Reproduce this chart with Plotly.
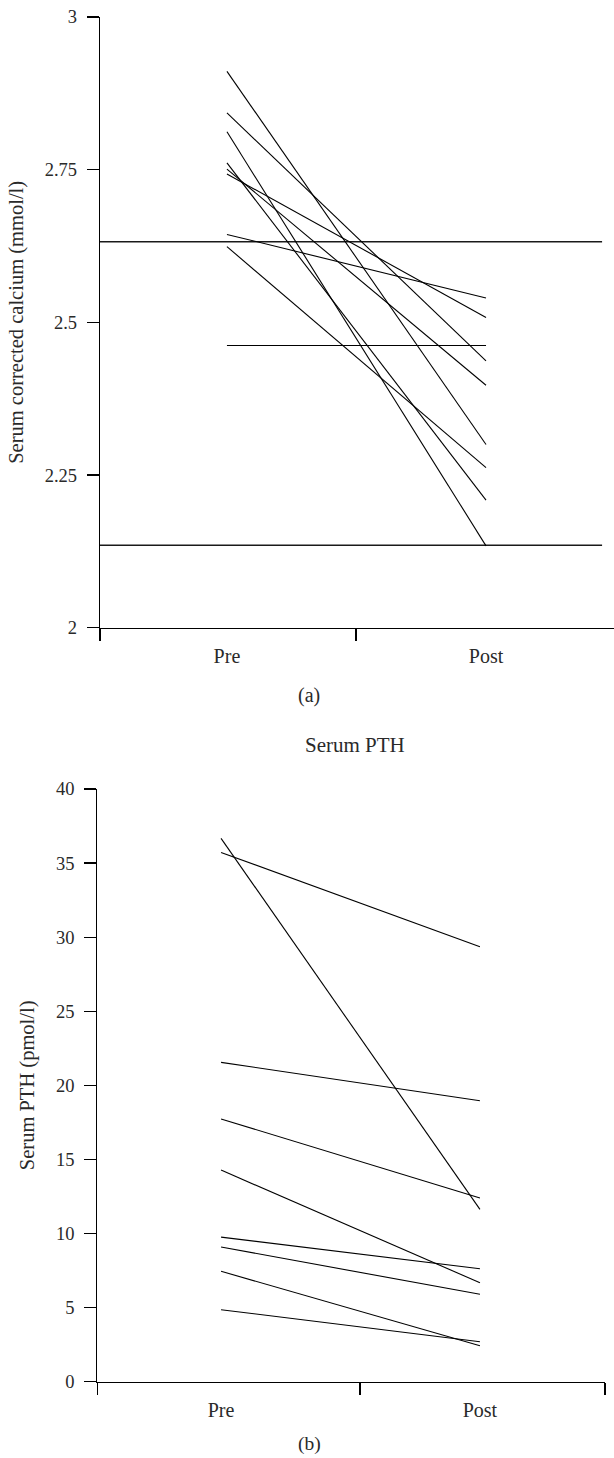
import plotly.graph_objects as go

# ---------------- data ----------------
categories = ["Pre", "Post"]

calcium_pre = [2.911, 2.843, 2.812, 2.761, 2.751, 2.743, 2.644, 2.624, 2.462]
calcium_post = [2.300, 2.437, 2.134, 2.209, 2.397, 2.508, 2.540, 2.262, 2.462]
calcium_ref = [2.632, 2.135]
calcium_ticks = [2, 2.25, 2.5, 2.75, 3]
calcium_ticktext = ["2", "2.25", "2.5", "2.75", "3"]

pth_pre = [36.67, 35.72, 21.55, 17.73, 14.28, 9.76, 9.09, 7.45, 4.86]
pth_post = [11.63, 29.35, 18.96, 12.40, 6.68, 7.62, 5.90, 2.43, 2.70]
pth_ticks = [0, 5, 10, 15, 20, 25, 30, 35, 40]

# ---------------- layout constants ----------------
W, H = 614, 1458
FONT = "Liberation Serif"
TXT = "#2a2a2a"


def ydom(top_px, bot_px):
    return [1 - bot_px / H, 1 - top_px / H]


xr_top = [-0.490, 1.494]
xr_bot = [-0.478, 1.483]
xpos = [0, 1]

fig = go.Figure()

# top panel: reference lines
for v in calcium_ref:
    fig.add_trace(go.Scatter(x=[xr_top[0], 1.448], y=[v, v], mode="lines",
                             line=dict(color="#1a1a1a", width=1.3),
                             xaxis="x", yaxis="y", showlegend=False, hoverinfo="skip"))
# top panel: subjects
for a, b in zip(calcium_pre, calcium_post):
    fig.add_trace(go.Scatter(x=xpos, y=[a, b], mode="lines",
                             line=dict(color="black", width=1.1),
                             xaxis="x", yaxis="y", showlegend=False))

# bottom panel: subjects
for a, b in zip(pth_pre, pth_post):
    fig.add_trace(go.Scatter(x=xpos, y=[a, b], mode="lines",
                             line=dict(color="black", width=1.1),
                             xaxis="x2", yaxis="y2", showlegend=False))

axis_line = dict(showline=True, linecolor="black", linewidth=1.2, showgrid=False,
                 zeroline=False, automargin=False)
ytickfont = dict(family=FONT, size=18.5, color=TXT)
xtickfont = dict(family=FONT, size=20, color=TXT)
titlefont = dict(family=FONT, size=20.5, color=TXT)

fig.update_layout(
    width=W, height=H,
    margin=dict(l=0, r=0, t=0, b=0),
    paper_bgcolor="white", plot_bgcolor="white",
    font=dict(family=FONT, color=TXT),
    xaxis=dict(domain=[100 / W, 1.0], range=xr_top, anchor="y",
               tickmode="array", tickvals=xpos, ticktext=categories,
               ticks="", ticklabelstandoff=10, tickfont=xtickfont,
               minor=dict(tickmode="array", tickvals=[xr_top[0], 0.498],
                          ticks="outside", ticklen=12, tickcolor="black", tickwidth=1.2),
               **axis_line),
    yaxis=dict(domain=ydom(17, 627.7), range=[2, 3], anchor="x",
               tickmode="array", tickvals=calcium_ticks, ticktext=calcium_ticktext,
               ticks="outside", ticklen=12, tickcolor="black", tickwidth=1.2,
               ticklabelstandoff=6, tickfont=ytickfont,
               title=dict(text="Serum corrected calcium (mmol/l)", font=titlefont, standoff=15),
               **axis_line),
    xaxis2=dict(domain=[97.3 / W, 605 / W], range=xr_bot, anchor="y2",
                tickmode="array", tickvals=xpos, ticktext=categories,
                ticks="", ticklabelstandoff=10, tickfont=xtickfont,
                minor=dict(tickmode="array", tickvals=[xr_bot[0], 0.537, xr_bot[1]],
                           ticks="outside", ticklen=12, tickcolor="black", tickwidth=1.2),
                **axis_line),
    yaxis2=dict(domain=ydom(789, 1381.7), range=[0, 40], anchor="x2",
                tickmode="array", tickvals=pth_ticks,
                ticks="outside", ticklen=12, tickcolor="black", tickwidth=1.2,
                ticklabelstandoff=6, tickfont=ytickfont,
                title=dict(text="Serum PTH (pmol/l)", font=titlefont, standoff=15),
                **axis_line),
)

for txt, xp, yp, sz, ya in [("(a)", 309, 695, 20, "middle"),
                            ("Serum PTH", 355, 745, 21, "middle"),
                            ("(b)", 309, 1457, 19.5, "bottom")]:
    fig.add_annotation(text=txt, x=xp / W, y=1 - yp / H, xref="paper", yref="paper",
                       xanchor="center", yanchor=ya, showarrow=False,
                       font=dict(family=FONT, size=sz, color=TXT))

fig.write_html("out.html",
               config={"displayModeBar": False, "staticPlot": True},
               post_script="document.body.style.margin='0';document.body.style.padding='0';")
